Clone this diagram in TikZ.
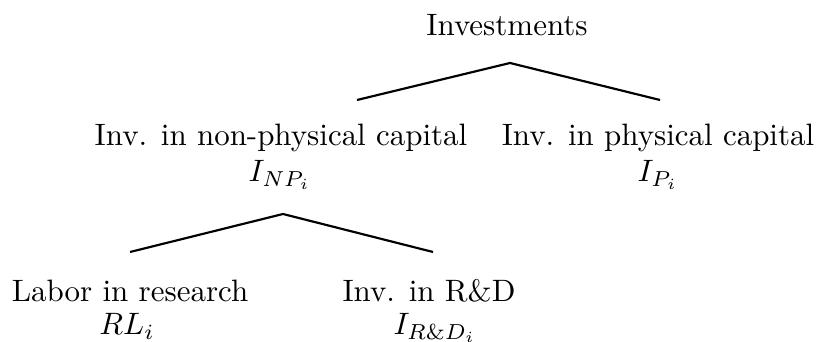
\documentclass[tikz,border=0pt]{standalone}
\begin{document}
\begin{tikzpicture}[x=0.323pt,y=-0.323pt,
  lbl/.style={anchor=base,inner sep=0pt,outer sep=0pt},
  branch/.style={line width=0.7pt,black}]
\useasboundingbox (0,0) rectangle (817,342);
% labels
\node[lbl] (inv) at (507,36) {Investments};
\node[lbl] (np) at (281,146) {Inv. in non-physical capital};
\node[lbl] (npsym) at (280,182) {$I_{NP_i}$};
\node[lbl] (ph) at (658,146) {Inv. in physical capital};
\node[lbl] (phsym) at (658,182) {$I_{P_i}$};
\node[lbl] (lab) at (130,302) {Labor in research};
\node[lbl] (labsym) at (127,335) {$RL_i$};
\node[lbl] (rd) at (429,302) {Inv. in R\&D};
\node[lbl] (rdsym) at (435,335) {$I_{R\&D_i}$};
% branch points
\coordinate (top) at (510,63);
\coordinate (topL) at (357,100);
\coordinate (topR) at (660,100);
\coordinate (mid) at (283,214);
\coordinate (midL) at (130,252);
\coordinate (midR) at (433,252);
\draw[branch] (topL) -- (top) -- (topR);
\draw[branch] (midL) -- (mid) -- (midR);
\end{tikzpicture}
\end{document}
